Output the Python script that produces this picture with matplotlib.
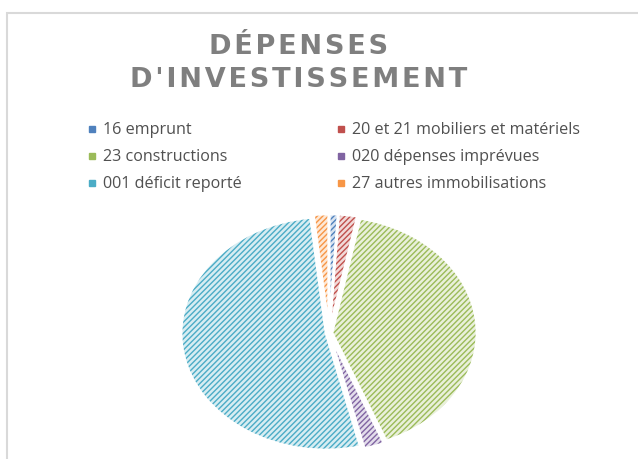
import matplotlib
matplotlib.use("Agg")
import matplotlib.pyplot as plt
from matplotlib.lines import Line2D
from matplotlib.patches import Rectangle
from matplotlib.colors import to_rgb

# ---- data ----
categories = ["16 emprunt", "20 et 21 mobiliers et matériels", "23 constructions",
              "020 dépenses imprévues", "001 déficit reporté", "27 autres immobilisations"]
values = [1.0, 2.1, 40.8, 2.3, 52.1, 1.7]
colors = ["#4F81BD", "#C0504D", "#9BBB59", "#8064A2", "#4BACC6", "#F79646"]
title_lines = ["DÉPENSES", "D'INVESTISSEMENT"]

W, H = 638, 459
fig = plt.figure(figsize=(W / 100, H / 100), dpi=100)
fig.patch.set_facecolor("white")

# chart frame (light grey border)
fig.patches.append(Rectangle((7 / W, -0.05), 1.2, (H - 13) / H + 0.05, transform=fig.transFigure,
                             fill=False, edgecolor="#D9D9D9", linewidth=1.5, zorder=0))

def tint(c, f=0.22):
    r, g, b = to_rgb(c)
    return (1 - f * (1 - r), 1 - f * (1 - g), 1 - f * (1 - b))

plt.rcParams["hatch.linewidth"] = 1.0

# pie axes (elliptical pie)
cx, cy, rx, ry = 329, 333, 148, 119
ax = fig.add_axes([(cx - rx) / W, (H - cy - ry) / H, 2 * rx / W, 2 * ry / H])
explode = [0.02] * len(values)
wedges, _ = ax.pie(values, colors=[tint(c) for c in colors], startangle=90, counterclock=False,
                   explode=explode, radius=0.98)
for w, c in zip(wedges, colors):
    w.set_hatch("//////")
    w.set_edgecolor(c)
    w.set_linewidth(0)
ov, _ = ax.pie(values, colors=["none"] * len(values), startangle=90, counterclock=False,
               explode=explode, radius=0.98,
               wedgeprops=dict(edgecolor="white", linewidth=2.0))
ax.set_aspect("auto")
ax.set_xlim(-1.0, 1.0)
ax.set_ylim(-1.0, 1.0)
ax.axis("off")

# title with letter spacing
sp = "\u200a"
for i, line in enumerate(title_lines):
    fig.text(299 / W, 1 - (47 + 33 * i) / H, sp.join(line), ha="center", va="center",
             fontsize=19.5, fontweight="bold", color="#7F7F7F", family="DejaVu Sans")

# legend
order = [0, 2, 4, 1, 3, 5]
handles = [Line2D([], [], linestyle="none", marker="s", markersize=4.5,
                  markerfacecolor=colors[i], markeredgecolor=colors[i]) for i in order]
labels = [categories[i] for i in order]
leg = fig.legend(handles, labels, ncol=2, loc="upper left",
                 bbox_to_anchor=(73 / W, 1 - 108 / H), frameon=False,
                 prop={"family": "Open Sans", "size": 11.6}, labelcolor="#505050",
                 handlelength=0.5, handletextpad=0.45, labelspacing=0.68, columnspacing=5.9)

fig.savefig("out.png", dpi=100, facecolor="white")
